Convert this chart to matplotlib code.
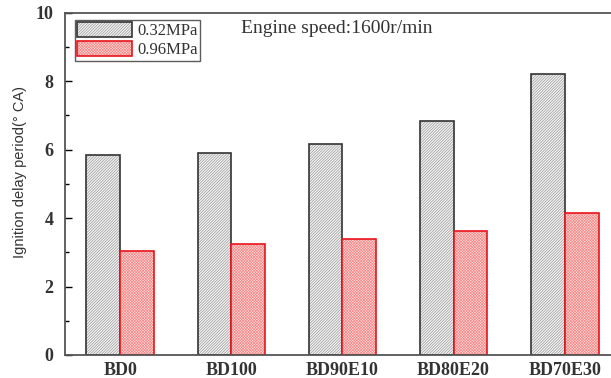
import numpy as np
import matplotlib

matplotlib.use("Agg")
import matplotlib.pyplot as plt
import matplotlib.patches as mpatches
from matplotlib.ticker import MultipleLocator

# Data
fuels = ["BD0", "BD100", "BD90E10", "BD80E20", "BD70E30"]
delay_032 = [5.85, 5.90, 6.17, 6.85, 8.22]
delay_096 = [3.05, 3.24, 3.39, 3.61, 4.16]
labels = ["0.32MPa", "0.96MPa"]

plt.rcParams["hatch.linewidth"] = 0.5
serif = ["Liberation Serif", "DejaVu Serif"]

GRAY_HATCH = "/" * 12
RED_HATCH = "x" * 12

fig = plt.figure(figsize=(6.11, 3.78), dpi=100)
ax = fig.add_axes([0.106, 0.061, 0.909, 0.905])

x = np.arange(len(fuels))
w = 0.305

# hatched fill, then outline drawn on top so hatch and edge can differ
ax.bar(x - w / 2, delay_032, w, color="#f6f6f6", edgecolor="#959595",
       hatch=GRAY_HATCH, linewidth=0)
ax.bar(x - w / 2, delay_032, w, fill=False, edgecolor="#333333", linewidth=1.2)
ax.bar(x + w / 2, delay_096, w, color="#ffe4e4", edgecolor="#f58a8a",
       hatch=RED_HATCH, linewidth=0)
ax.bar(x + w / 2, delay_096, w, fill=False, edgecolor="#e8141b", linewidth=1.2)

ax.set_xlim(-0.5, 4.5)
ax.set_ylim(0, 10)
ax.yaxis.set_major_locator(MultipleLocator(2))
ax.yaxis.set_minor_locator(MultipleLocator(1))
ax.tick_params(axis="y", which="major", direction="in", length=5, width=1,
               labelsize=13, pad=8)
ax.tick_params(axis="y", which="minor", direction="in", length=3, width=1)
ax.tick_params(axis="x", length=0, labelsize=13, pad=5)
ax.set_xticks(x)
ax.set_xticklabels(fuels)
for t in ax.get_xticklabels() + ax.get_yticklabels():
    t.set_family(serif)
    t.set_color("#333333")
    t.set_fontweight("bold")

for s in ["left", "bottom", "top"]:
    ax.spines[s].set_color("#555555")
    ax.spines[s].set_linewidth(1.3)
ax.spines["right"].set_visible(False)

ax.set_ylabel("Ignition delay period(° CA)", fontsize=10.5,
              family=["Liberation Sans", "DejaVu Sans"], color="#333333")
ax.yaxis.set_label_coords(-0.068, 0.535)

h1 = (mpatches.Patch(facecolor="#f6f6f6", edgecolor="#959595", hatch=GRAY_HATCH, linewidth=0),
      mpatches.Patch(fill=False, edgecolor="#333333", linewidth=1.2))
h2 = (mpatches.Patch(facecolor="#ffe4e4", edgecolor="#f58a8a", hatch=RED_HATCH, linewidth=0),
      mpatches.Patch(fill=False, edgecolor="#e8141b", linewidth=1.2))
leg = ax.legend([h1, h2], labels, loc="upper left", bbox_to_anchor=(0.012, 0.99),
                prop={"family": serif, "size": 12}, frameon=True, fancybox=False,
                handlelength=3.3, handleheight=1.0, handletextpad=0.3,
                borderpad=0.15, labelspacing=0.1, borderaxespad=0.2)
leg.get_frame().set_edgecolor("#333333")
leg.get_frame().set_linewidth(1.0)
for t in leg.get_texts():
    t.set_color("#333333")

ax.text(0.317, 0.955, "Engine speed:1600r/min", transform=ax.transAxes,
        family=serif, fontsize=14, color="#333333", va="center", ha="left")

fig.savefig("out.png", dpi=100)
